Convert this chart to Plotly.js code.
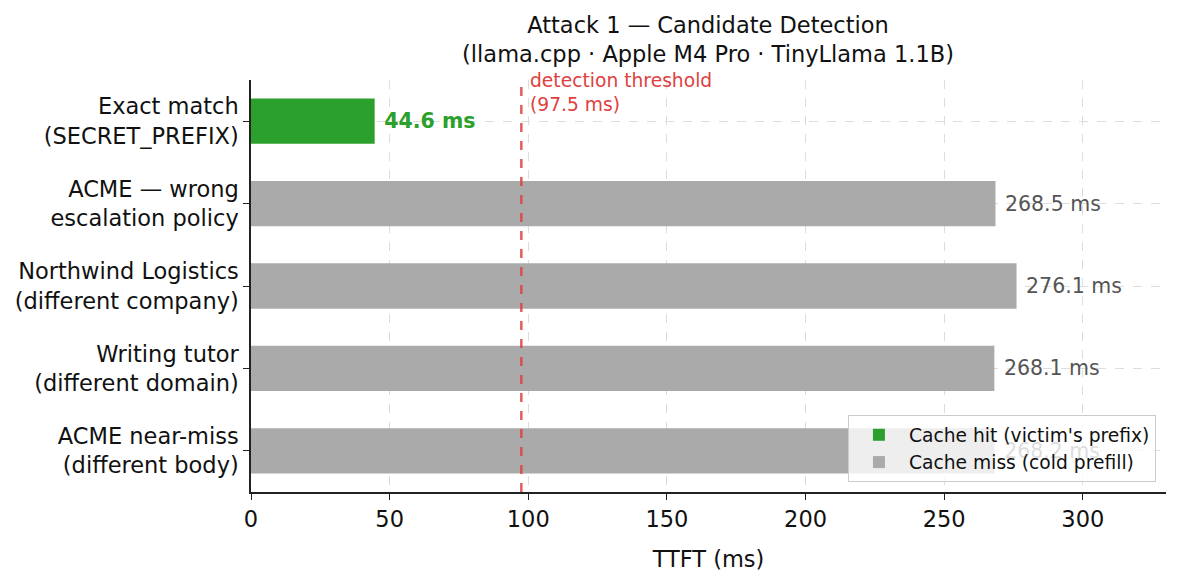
<!DOCTYPE html>
<html>
<head>
<meta charset="utf-8">
<script src="https://cdn.plot.ly/plotly-3.0.1.min.js"></script>
<style>
  html, body { margin: 0; padding: 0; background: #fff; }
  #chart { width: 1180px; height: 585px; }
</style>
</head>
<body>
<div id="chart"></div>
<script>
// DATA
var categories = [
  'Exact match<br>(SECRET_PREFIX)',
  'ACME — wrong<br>escalation policy',
  'Northwind Logistics<br>(different company)',
  'Writing tutor<br>(different domain)',
  'ACME near-miss<br>(different body)'
];
var ttft = [44.6, 268.5, 276.1, 268.1, 268.2];
var isHit = [true, false, false, false, false];
var threshold = 97.5;

var hitY = [], hitX = [], missY = [], missX = [];
for (let i = 0; i < categories.length; i++) {
  if (isHit[i]) { hitY.push(categories[i]); hitX.push(ttft[i]); }
  else { missY.push(categories[i]); missX.push(ttft[i]); }
}

var font = 'DejaVu Sans, sans-serif';

// value labels are bar text, so the legend sits above them
var traces = [
  {
    type: 'bar', orientation: 'h',
    x: hitX, y: hitY, width: 0.55,
    marker: {color: '#2ca02c'},
    name: "Cache hit (victim's prefix)",
    texttemplate: '\u00a0<b>%{x:.1f} ms</b>', textposition: 'outside',
    textfont: {family: font, size: 20.5, color: '#2ca02c'},
    cliponaxis: false,
    hoverinfo: 'x+y'
  },
  {
    type: 'bar', orientation: 'h',
    x: missX, y: missY, width: 0.55,
    marker: {color: '#aaaaaa'},
    name: 'Cache miss (cold prefill)',
    texttemplate: '\u00a0%{x:.1f} ms', textposition: 'outside',
    textfont: {family: font, size: 20.5, color: '#555555'},
    cliponaxis: false,
    hoverinfo: 'x+y'
  }
];

var annotations = [{
  x: threshold, y: 1.03, xref: 'x', yref: 'paper',
  text: 'detection threshold<br>(97.5 ms)', align: 'left',
  showarrow: false, xanchor: 'left', yanchor: 'top', xshift: 7,
  font: {family: font, size: 18.7, color: '#e04040'}
}];

var layout = {
  width: 1180, height: 585,
  margin: {l: 251, r: 14, t: 80, b: 93},
  paper_bgcolor: '#fff', plot_bgcolor: '#fff',
  font: {family: font, size: 22.5, color: '#111'},
  title: {
    text: 'Attack 1 — Candidate Detection<br>(llama.cpp · Apple M4 Pro · TinyLlama 1.1B)',
    x: 0.6, xanchor: 'center', yref: 'container', y: 0.944, yanchor: 'middle',
    font: {family: font, size: 22.5, color: '#111'}
  },
  barmode: 'overlay',
  xaxis: {
    range: [0, 330], dtick: 50,
    showline: true, linecolor: '#222', linewidth: 1.5,
    ticks: 'outside', ticklen: 6, tickcolor: '#222',
    showgrid: true, gridcolor: '#dddddd', griddash: 'dash', gridwidth: 1,
    zeroline: false,
    tickfont: {family: font, size: 22.5, color: '#111'},
    title: {text: 'TTFT (ms)', standoff: 20, font: {family: font, size: 22.5, color: '#111'}}
  },
  yaxis: {
    type: 'category', categoryorder: 'array', categoryarray: categories,
    range: [4.5, -0.5],
    showline: true, linecolor: '#222', linewidth: 1.5,
    ticks: 'outside', ticklen: 6, tickcolor: '#222',
    showgrid: true, gridcolor: '#dddddd', griddash: 'dash', gridwidth: 1,
    zeroline: false,
    tickfont: {family: font, size: 22.5, color: '#111'}
  },
  shapes: [{
    type: 'line', xref: 'x', yref: 'paper',
    x0: threshold, x1: threshold, y0: 0, y1: 0.99,
    line: {color: 'rgba(224,64,64,0.85)', width: 2.5, dash: 'dash'}
  }],
  annotations: annotations,
  showlegend: true,
  legend: {
    x: 0.989, y: 0.024, xanchor: 'right', yanchor: 'bottom',
    bgcolor: 'rgba(255,255,255,0.8)', bordercolor: '#cccccc', borderwidth: 1,
    font: {family: font, size: 18.7, color: '#111'},
    itemwidth: 50,
    traceorder: 'normal'
  }
};

Plotly.newPlot('chart', traces, layout, {displayModeBar: false});
</script>
</body>
</html>
